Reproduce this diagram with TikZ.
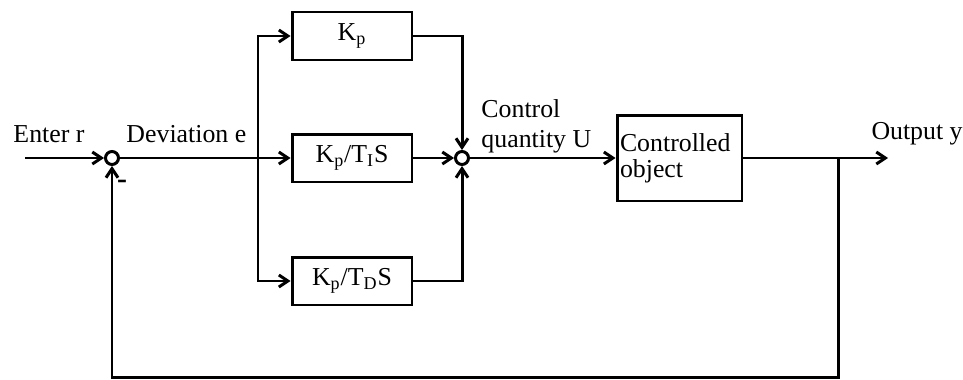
\documentclass[tikz,border=0pt]{standalone}
\usepackage{fontspec}
\setmainfont{Liberation Serif}
\usetikzlibrary{arrows.meta}
\begin{document}
\begin{tikzpicture}[x=0.02cm, y=-0.02cm, line width=1.7pt,
  every node/.style={font=\fontsize{14.7pt}{17pt}\selectfont},
  blk/.style={draw, line width=1.7pt, minimum width=2.4cm, minimum height=0.96cm, inner sep=0pt},
  sumpt/.style={draw, circle, line width=1.7pt, minimum size=0.26cm, inner sep=0pt},
  >={Straight Barb[length=1.8mm,width=2.4mm]}]
\useasboundingbox (0,0) rectangle (963,379);
% junctions and blocks
\node[sumpt] (sum1) at (112,158) {};
\node[sumpt] (sum2) at (462,158) {};
\node[blk] (kp) at (352,36) {K\textsubscript{p}};
\node[blk] (kpi) at (352,158) {K\textsubscript{p}/T\textsubscript{I}S};
\node[blk] (kpd) at (352,281) {K\textsubscript{p}/T\textsubscript{D}S};
\node[draw,line width=1.7pt,minimum width=2.5cm,minimum height=1.72cm,text width=2.38cm,inner xsep=0.06cm,align=left,
  font=\fontsize{14.7pt}{15pt}\selectfont] (plant) at (679.5,158) {Controlled\\object};
\coordinate (in) at (25,158);
\coordinate (branch) at (258,158);
\coordinate (out) at (888,158);
\coordinate (fb) at (838,158);
\coordinate (fbc) at (838,377);
% labels
\node[anchor=base west,inner sep=0pt] (lin) at (12,142) {Enter r};
\node[anchor=base west,inner sep=0pt] (ldev) at (125,142) {Deviation e};
\node[anchor=base west,inner sep=0pt,align=left] (lu) at (480,147) {Control\\quantity U};
\node[anchor=base west,inner sep=0pt] (lout) at (870,139) {Output y};
\node[inner sep=0pt,font=\fontsize{17pt}{17pt}\selectfont\bfseries] (minus) at (122,184) {-};
% signal lines
\draw[->] (in) -- (sum1);
\draw[->] (sum1) -- (kpi);
\draw[->] (branch) |- (kp);
\draw[->] (branch) |- (kpd);
\draw[->] (kp) -| (sum2);
\draw[->] (kpi) -- (sum2);
\draw[->] (kpd) -| (sum2);
\draw[->] (sum2) -- (plant);
\draw[->] (plant) -- (out);
\draw[->] (fb) -- (fbc) -| (sum1);
\end{tikzpicture}
\end{document}
